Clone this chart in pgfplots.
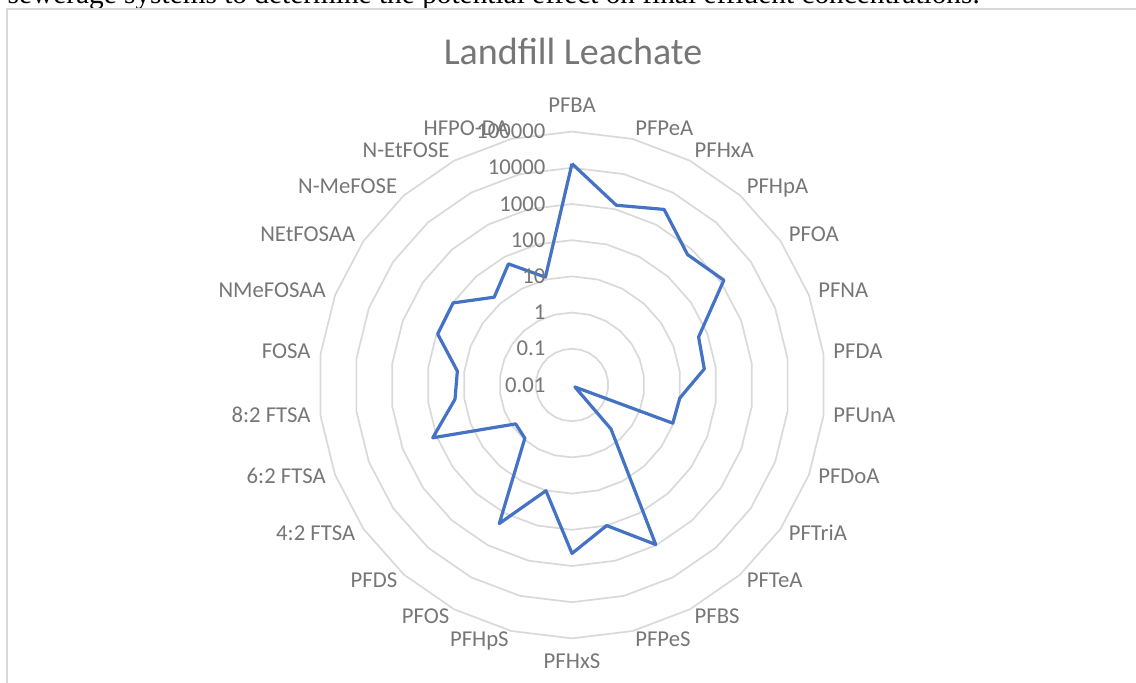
\documentclass[border=0pt]{standalone}
\usepackage{pgfplots}
\pgfplotsset{compat=1.18}
\usepackage{pgfplotstable}
\usepackage{fontspec}
\setmainfont{Carlito}
\newfontfamily\docfont{Liberation Serif}
\definecolor{leach}{HTML}{4472C4}
\definecolor{ring}{HTML}{D9D9D9}
\definecolor{txt}{HTML}{767676}

% k = category index (clockwise from top), v = concentration (log radial axis, centre = 0.01)
\pgfplotstableread{
k v
0  13000
1  1300
2  3000
3  650
4  1250
5  55
6  48
7  10
8  9.5
9  0.0125
10 0.42
11 950
12 100
13 450
14 10.2
15 210
16 0.92
17 0.78
18 130
19 18
20 15.5
21 93
22 98
23 17.4
24 60
25 11.7
26 13000
}\leachate

\begin{document}
\begin{tikzpicture}[x=0.5pt,y=0.5pt]
\useasboundingbox (0,0) rectangle (1136,683);
\clip (0,0) rectangle (1136,683);

% document line cut off above the chart
\node[anchor=base west, inner sep=0pt] at (7.3,679.5)
  {\resizebox{486pt}{!}{\docfont sewerage systems to determine the potential effect on final effluent concentrations.}};

% chart frame
\draw[ring, line width=0.85pt] (6.7,-20) -- (6.7,673.7) -- (1200,673.7);

\node[txt, anchor=base, inner sep=0pt, font=\fontsize{19}{23}\selectfont] at (573,618) {Landfill Leachate};

\begin{axis}[at={(286pt,149pt)}, anchor=center,
  x=18.1pt, y=18.1pt,
  xmin=-7.5, xmax=7.5, ymin=-7.5, ymax=7.5,
  axis lines=none, ticks=none, clip=false]
  % ring gridlines: 0.1, 1, 10, ..., 100000
  \pgfplotsinvokeforeach{1,...,7}{
    \addplot[ring, line width=0.85pt, no marks]
      table[x expr={#1*cos(90-\thisrow{k}*360/26)},
            y expr={#1*sin(90-\thisrow{k}*360/26)}] {\leachate};
  }
  \addplot[leach, line width=1.6pt, line join=round, no marks]
    table[x expr={(log10(\thisrow{v})+2)*cos(90-\thisrow{k}*360/26)},
          y expr={(log10(\thisrow{v})+2)*sin(90-\thisrow{k}*360/26)}] {\leachate};
\end{axis}

\begin{scope}[shift={(572,298)},
  every node/.style={txt, inner sep=0pt, font=\fontsize{11.35}{13.6}\selectfont,
    text height=7.17pt, text depth=0pt}]
  \node[anchor=base] at (0,272.7) {PFBA};
  \node[anchor=north] at (0,-268.3) {PFHxS};
  \foreach \i/\lab in {1/PFPeA,2/PFHxA,3/PFHpA,4/PFOA,5/PFNA,6/PFDA,7/PFUnA,
      8/PFDoA,9/PFTriA,10/PFTeA,11/PFBS,12/PFPeS}
    \node[anchor=west] at ({263*cos(90-\i*360/26)},{263*sin(90-\i*360/26)+1.5}) {\lab};
  \foreach \i/\lab in {14/PFHpS,15/PFOS,16/PFDS,17/4:2 FTSA,18/6:2 FTSA,19/8:2 FTSA,
      20/FOSA,21/NMeFOSAA,22/NEtFOSAA,23/N-MeFOSE,24/N-EtFOSE,25/HFPO-DA}
    \node[anchor=east] at ({263*cos(90-\i*360/26)},{263*sin(90-\i*360/26)+1.5}) {\lab};
  \foreach \r/\lab in {0/0.01,1/0.1,2/1,3/10,4/100,5/1000,6/10000,7/100000}
    \node[anchor=east] at (-26.3,{36.2*\r}) {\lab};
\end{scope}
\end{tikzpicture}
\end{document}
